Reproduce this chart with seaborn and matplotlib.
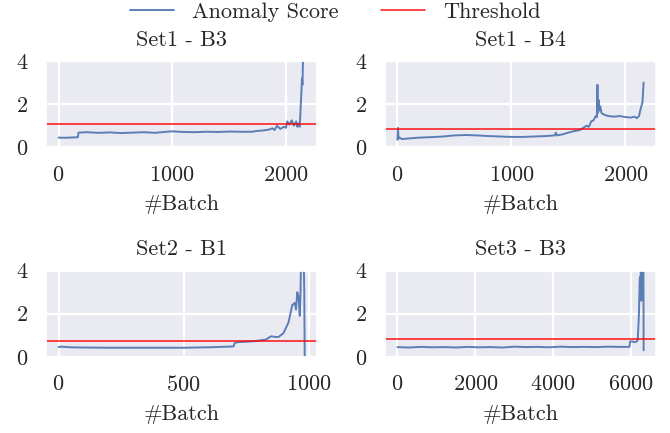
import matplotlib
matplotlib.use('Agg')
import matplotlib.pyplot as plt
import seaborn as sns
import pandas as pd

titles = ['Set1 - B3', 'Set1 - B4', 'Set2 - B1', 'Set3 - B3']
thresholds = [1.08, 0.85, 0.74, 0.82]

b3_set1_batch = [0, 50, 100, 150, 170, 175, 250, 350, 450, 550, 650, 750, 850,
                 950, 1000, 1100, 1200, 1300, 1400, 1500, 1600, 1700, 1750,
                 1800, 1850, 1880, 1900, 1920, 1950, 1980, 2000, 2010, 2030,
                 2050, 2070, 2090, 2100, 2110, 2120, 2125, 2130, 2135, 2140,
                 2145, 2150, 2158, 2165]
b3_set1_score = [0.45, 0.44, 0.45, 0.46, 0.47, 0.68, 0.70, 0.67, 0.69, 0.66,
                 0.68, 0.70, 0.67, 0.72, 0.74, 0.71, 0.70, 0.72, 0.71, 0.73,
                 0.72, 0.72, 0.76, 0.78, 0.82, 0.88, 0.80, 1.00, 0.85, 0.95,
                 0.90, 1.20, 1.05, 1.25, 1.00, 1.20, 0.95, 1.10, 0.95, 1.40,
                 2.00, 2.50, 3.20, 2.90, 4.30, 5.00, 5.50]

b4_set1_batch = [0, 5, 10, 20, 40, 80, 120, 200, 300, 400, 500, 600, 700, 800,
                 900, 1000, 1100, 1200, 1300, 1380, 1390, 1400, 1450, 1500,
                 1550, 1600, 1630, 1660, 1680, 1700, 1720, 1740, 1750, 1755,
                 1760, 1765, 1770, 1780, 1790, 1800, 1820, 1850, 1900, 1950,
                 2000, 2050, 2080, 2100, 2120, 2130, 2140, 2150, 2160]
b4_set1_score = [0.35, 0.90, 0.40, 0.45, 0.38, 0.40, 0.42, 0.45, 0.47, 0.50,
                 0.55, 0.57, 0.55, 0.52, 0.50, 0.48, 0.48, 0.50, 0.52, 0.55,
                 0.68, 0.55, 0.60, 0.68, 0.75, 0.80, 0.90, 1.00, 0.95, 1.20,
                 1.25, 1.45, 1.40, 2.90, 1.60, 2.20, 1.70, 1.90, 1.60, 1.55,
                 1.50, 1.45, 1.42, 1.45, 1.40, 1.38, 1.42, 1.35, 1.45, 1.70,
                 1.90, 2.10, 3.00]

b1_set2_batch = [0, 10, 50, 100, 200, 300, 400, 500, 600, 650, 700, 705, 720,
                 750, 780, 800, 830, 850, 870, 880, 900, 910, 920, 935, 945,
                 950, 955, 960, 965, 968, 970, 975, 980, 983, 985]
b1_set2_score = [0.45, 0.47, 0.44, 0.43, 0.42, 0.42, 0.42, 0.42, 0.44, 0.46,
                 0.48, 0.65, 0.68, 0.70, 0.72, 0.75, 0.80, 0.95, 0.92, 0.92,
                 1.10, 1.35, 1.60, 2.40, 2.50, 2.20, 3.00, 2.80, 1.90, 3.00,
                 4.50, 5.00, 5.00, 3.00, -0.50]

b3_set3_batch = [0, 300, 600, 900, 1200, 1500, 1800, 2100, 2400, 2700, 3000,
                 3300, 3600, 3900, 4200, 4500, 4800, 5100, 5400, 5700, 5950,
                 5960, 5970, 6000, 6100, 6150, 6170, 6200, 6220, 6230, 6240,
                 6250, 6260, 6270, 6280, 6300, 6315, 6320]
b3_set3_score = [0.45, 0.43, 0.46, 0.44, 0.45, 0.43, 0.46, 0.44, 0.45, 0.43,
                 0.47, 0.45, 0.46, 0.44, 0.47, 0.45, 0.46, 0.45, 0.47, 0.46,
                 0.46, 0.48, 0.70, 0.72, 0.68, 0.72, 0.80, 2.00, 3.60, 3.70,
                 3.00, 4.50, 2.60, 3.40, 4.50, 5.00, 4.50, 0.30]

batches = [b3_set1_batch, b4_set1_batch, b1_set2_batch, b3_set3_batch]
scores = [b3_set1_score, b4_set1_score, b1_set2_score, b3_set3_score]

sns.set_theme(style='darkgrid', rc={'grid.linewidth': 1.6})
plt.rcParams['font.family'] = 'serif'
plt.rcParams['font.serif'] = ['cmr10']
plt.rcParams['mathtext.fontset'] = 'cm'
plt.rcParams['axes.formatter.use_mathtext'] = True
plt.rcParams['axes.unicode_minus'] = False

fs = 16
fig, axes = plt.subplots(2, 2, figsize=(6.7, 4.33), dpi=100)
fig.subplots_adjust(left=0.069, right=0.979, top=0.859, bottom=0.176,
                    wspace=0.251, hspace=1.43)

for ax, title, thr, x, y in zip(axes.flat, titles, thresholds, batches, scores):
    df = pd.DataFrame({'batch': x, 'score': y})
    sns.lineplot(data=df, x='batch', y='score', ax=ax, color='#4c72b0',
                 linewidth=1.4, alpha=0.9, estimator=None, sort=False,
                 label='Anomaly Score')
    ax.axhline(thr, color='red', linewidth=1.2, alpha=0.85, label='Threshold')
    ax.set_ylim(0, 4)
    ax.set_yticks([0, 2, 4])
    ax.set_title(title, fontsize=fs, pad=11)
    ax.set_xlabel('#Batch', fontsize=fs, labelpad=7)
    ax.set_ylabel('')
    ax.tick_params(labelsize=fs, pad=7)
    ax.get_legend().remove()

handles, labels = axes[0, 0].get_legend_handles_labels()
fig.legend(handles, labels, loc='upper center', ncol=2, frameon=False,
           fontsize=fs, bbox_to_anchor=(0.5, 1.04), columnspacing=1.9,
           handlelength=2.0)

fig.savefig('out.png', dpi=100)
